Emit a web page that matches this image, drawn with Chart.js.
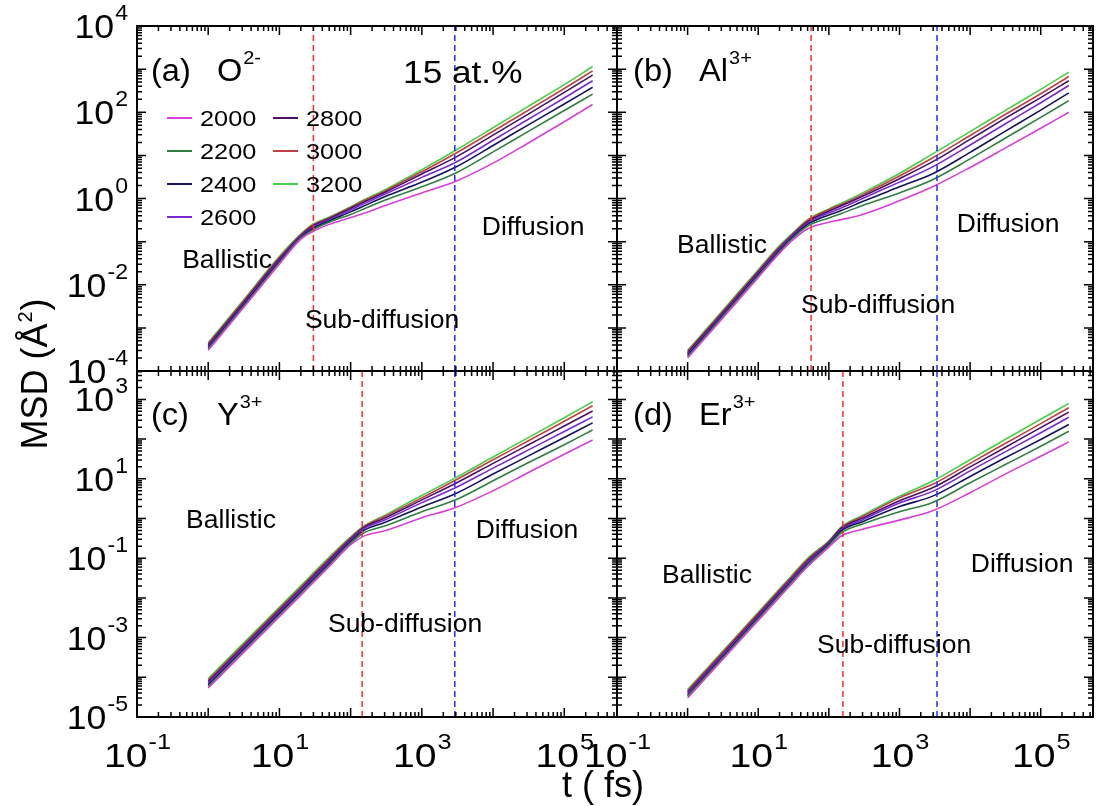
<!DOCTYPE html>
<html lang="pt-BR">
<head>
<meta charset="UTF-8">
<title>MSD 15 at.%</title>
<script src="https://cdn.jsdelivr.net/npm/chart.js@4.4.0/dist/chart.umd.min.js"></script>
<style>
  body { margin: 0; background: #fff; }
  #figura { position: relative; width: 1099px; height: 806px; background: #fff; }
  #figura canvas { position: absolute; left: 0; top: 0; }
</style>
</head>
<body>
<div id="figura">
  <canvas id="painel-a" width="1099" height="806"></canvas>
  <canvas id="painel-b" width="1099" height="806"></canvas>
  <canvas id="painel-c" width="1099" height="806"></canvas>
  <canvas id="painel-d" width="1099" height="806"></canvas>
</div>
<script>
// Tempos (fs) em que as curvas foram lidas
const tempos = [1, 3, 10, 20, 30, 50, 100, 150, 300, 1000, 3000, 10000, 30000, 100000, 250000];

// Temperaturas (K) e cores da legenda
const temperaturas = ['2000', '2200', '2400', '2600', '2800', '3000', '3200'];
const cores = ['#d83fd8', '#2f8040', '#14145c', '#7a28d4', '#4a0f62', '#bf4040', '#45d045'];

// log10 do MSD (Å²), uma linha por temperatura
const logMsdO = [
  [-3.52, -2.57, -1.52, -0.94, -0.76, -0.60, -0.44, -0.35, -0.17, 0.13, 0.40, 0.82, 1.27, 1.78, 2.18],
  [-3.49, -2.54, -1.49, -0.92, -0.72, -0.55, -0.37, -0.25, -0.04, 0.27, 0.59, 1.08, 1.54, 2.04, 2.42],
  [-3.46, -2.51, -1.46, -0.90, -0.69, -0.52, -0.31, -0.18, 0.04, 0.38, 0.73, 1.23, 1.69, 2.19, 2.58],
  [-3.43, -2.48, -1.43, -0.88, -0.66, -0.49, -0.27, -0.13, 0.10, 0.49, 0.84, 1.35, 1.82, 2.33, 2.73],
  [-3.40, -2.45, -1.40, -0.86, -0.63, -0.47, -0.23, -0.09, 0.14, 0.57, 0.96, 1.47, 1.94, 2.46, 2.86],
  [-3.37, -2.42, -1.37, -0.84, -0.61, -0.45, -0.21, -0.06, 0.17, 0.62, 1.05, 1.56, 2.03, 2.55, 2.96],
  [-3.34, -2.39, -1.34, -0.82, -0.59, -0.43, -0.19, -0.04, 0.20, 0.67, 1.12, 1.64, 2.12, 2.64, 3.06]
];
const logMsdAl = [
  [-3.70, -2.81, -1.83, -1.27, -0.98, -0.70, -0.55, -0.49, -0.37, -0.05, 0.28, 0.72, 1.15, 1.63, 2.00],
  [-3.67, -2.78, -1.80, -1.24, -0.94, -0.64, -0.45, -0.35, -0.16, 0.13, 0.44, 0.92, 1.38, 1.88, 2.27],
  [-3.64, -2.75, -1.77, -1.21, -0.91, -0.60, -0.38, -0.28, -0.07, 0.27, 0.58, 1.07, 1.54, 2.05, 2.45],
  [-3.61, -2.72, -1.74, -1.18, -0.88, -0.57, -0.33, -0.22, 0.00, 0.38, 0.74, 1.24, 1.71, 2.22, 2.62],
  [-3.58, -2.69, -1.71, -1.15, -0.86, -0.54, -0.29, -0.17, 0.05, 0.46, 0.86, 1.37, 1.84, 2.34, 2.73],
  [-3.55, -2.66, -1.68, -1.12, -0.84, -0.51, -0.26, -0.14, 0.09, 0.52, 0.95, 1.46, 1.93, 2.43, 2.83],
  [-3.52, -2.63, -1.65, -1.09, -0.82, -0.49, -0.24, -0.11, 0.13, 0.58, 1.04, 1.55, 2.02, 2.53, 2.93]
];
const logMsdY = [
  [-4.27, -3.41, -2.47, -1.93, -1.61, -1.21, -0.66, -0.45, -0.31, 0.02, 0.28, 0.70, 1.14, 1.62, 1.98],
  [-4.23, -3.37, -2.43, -1.89, -1.57, -1.17, -0.62, -0.37, -0.19, 0.17, 0.47, 0.95, 1.39, 1.86, 2.23],
  [-4.19, -3.33, -2.39, -1.85, -1.53, -1.13, -0.58, -0.31, -0.10, 0.29, 0.63, 1.12, 1.56, 2.04, 2.41],
  [-4.15, -3.29, -2.35, -1.81, -1.49, -1.09, -0.55, -0.27, -0.04, 0.40, 0.78, 1.27, 1.71, 2.19, 2.56],
  [-4.11, -3.25, -2.31, -1.77, -1.45, -1.05, -0.52, -0.24, 0.01, 0.47, 0.89, 1.39, 1.84, 2.33, 2.71],
  [-4.07, -3.21, -2.27, -1.73, -1.41, -1.01, -0.49, -0.22, 0.05, 0.52, 0.97, 1.48, 1.94, 2.45, 2.84],
  [-4.03, -3.17, -2.23, -1.69, -1.37, -0.97, -0.46, -0.20, 0.08, 0.58, 1.03, 1.55, 2.02, 2.54, 2.94]
];
const logMsdEr = [
  [-4.52, -3.59, -2.57, -1.98, -1.64, -1.21, -0.72, -0.44, -0.27, -0.04, 0.20, 0.65, 1.10, 1.57, 1.93],
  [-4.48, -3.55, -2.53, -1.94, -1.60, -1.17, -0.68, -0.36, -0.14, 0.17, 0.41, 0.90, 1.34, 1.82, 2.20],
  [-4.45, -3.52, -2.50, -1.91, -1.57, -1.14, -0.65, -0.31, -0.08, 0.30, 0.57, 1.06, 1.51, 1.99, 2.37],
  [-4.41, -3.48, -2.46, -1.87, -1.53, -1.10, -0.62, -0.28, -0.03, 0.39, 0.69, 1.20, 1.66, 2.16, 2.55],
  [-4.38, -3.45, -2.43, -1.84, -1.50, -1.07, -0.60, -0.25, 0.01, 0.45, 0.78, 1.30, 1.77, 2.29, 2.68],
  [-4.34, -3.41, -2.39, -1.80, -1.46, -1.03, -0.58, -0.23, 0.05, 0.52, 0.87, 1.39, 1.87, 2.39, 2.79],
  [-4.31, -3.38, -2.36, -1.77, -1.43, -1.00, -0.56, -0.21, 0.08, 0.56, 0.95, 1.48, 1.97, 2.50, 2.90]
];

// Linhas tracejadas (fs): fim do regime balístico e início da difusão
const limiteBalistico = [30, 56, 145, 158];
const limiteDifusao = [2900, 3400, 2900, 3400];

// Faixas dos eixos
const faixaT = [0.1, 5.5e5];
const faixaMsdSup = [1e-4, 1e4];
const faixaMsdInf = [1e-5, 5.2e3];

// Expoentes que recebem rótulo
const rotulosX = [-1, 1, 3, 5];
const rotulosYSup = [4, 2, 0, -2, -4];
const rotulosYInf = [3, 1, -1, -3, -5];

const FONTE = '"Liberation Sans", Arial, sans-serif';

// Escreve texto (com esticamento horizontal opcional)
function escrever(ctx, texto, x, y, tamanho, alinhamento = 'left', esticar = 1) {
  ctx.save();
  ctx.font = `${tamanho}px ${FONTE}`;
  const largura = ctx.measureText(texto).width * esticar;
  let x0 = x;
  if (alinhamento === 'center') x0 = x - largura / 2;
  if (alinhamento === 'right') x0 = x - largura;
  ctx.translate(x0, y);
  ctx.scale(esticar, 1);
  ctx.textAlign = 'left';
  ctx.textBaseline = 'alphabetic';
  ctx.fillStyle = '#000';
  ctx.fillText(texto, 0, 0);
  ctx.restore();
  return largura;
}

function larguraTexto(ctx, texto, tamanho, esticar = 1) {
  ctx.save();
  ctx.font = `${tamanho}px ${FONTE}`;
  const w = ctx.measureText(texto).width * esticar;
  ctx.restore();
  return w;
}

// Rótulo "10^n"
function potencia(ctx, exp, x, y, alinhamento, esticar) {
  const sup = String(exp);
  const wb = larguraTexto(ctx, '10', 34, esticar);
  const ws = larguraTexto(ctx, sup, 22, esticar);
  let x0 = x;
  if (alinhamento === 'center') x0 = x - (wb + ws) / 2;
  if (alinhamento === 'right') x0 = x - (wb + ws);
  escrever(ctx, '10', x0, y, 34, 'left', esticar);
  escrever(ctx, sup, x0 + wb + 1, y - 18, 22, 'left', esticar);
}

// Traços internos de um eixo logarítmico
function tracos(ctx, escala, horizontal, area) {
  const min = escala.min, max = escala.max;
  for (let k = Math.floor(Math.log10(min)); k <= Math.ceil(Math.log10(max)); k++) {
    for (let m = 1; m <= 9; m++) {
      const v = m * Math.pow(10, k);
      if (v < min * 0.999 || v > max * 1.001) continue;
      const p = escala.getPixelForValue(v);
      const comp = m === 1 ? 9 : 5;
      ctx.beginPath();
      if (horizontal) {
        ctx.moveTo(p, area.bottom); ctx.lineTo(p, area.bottom - comp);
        ctx.moveTo(p, area.top); ctx.lineTo(p, area.top + comp);
      } else {
        ctx.moveTo(area.left, p); ctx.lineTo(area.left + comp, p);
        ctx.moveTo(area.right, p); ctx.lineTo(area.right - comp, p);
      }
      ctx.stroke();
    }
  }
}

// Plugin que desenha moldura, traços, rótulos e anotações de cada painel
function decoracao(cfg) {
  return {
    id: 'decoracao',
    afterDraw(chart) {
      const ctx = chart.ctx;
      const area = chart.chartArea;
      const sx = chart.scales.x, sy = chart.scales.y;
      const px = t => sx.getPixelForValue(t);
      const py = v => sy.getPixelForValue(v);

      ctx.save();
      ctx.strokeStyle = '#000';
      ctx.lineWidth = 1.5;
      tracos(ctx, sx, true, area);
      tracos(ctx, sy, false, area);
      ctx.lineWidth = 2;
      ctx.strokeRect(area.left, area.top, area.right - area.left, area.bottom - area.top);
      ctx.restore();

      // Rótulos dos eixos
      if (cfg.rotulosY) {
        cfg.rotulosY.forEach(e => potencia(ctx, e, area.left - 10, py(Math.pow(10, e)) + 12, 'right', 1.05));
      }
      if (cfg.comRotulosX) {
        rotulosX.forEach(e => potencia(ctx, e, px(Math.pow(10, e)), area.bottom + 50, 'center', 1.15));
      }

      // Identificação do painel: "(a)  O2-"
      const xTag = px(cfg.etiqueta.t), yTag = py(cfg.etiqueta.msd);
      escrever(ctx, cfg.etiqueta.letra, xTag, yTag, 31, 'left', 1.05);
      const wIon = escrever(ctx, cfg.etiqueta.ion, xTag + 66, yTag, 31, 'left', 1.05);
      escrever(ctx, cfg.etiqueta.carga, xTag + 66 + wIon + 1, yTag - 17, 19, 'left', 1.05);

      // Regimes
      cfg.regimes.forEach(r => escrever(ctx, r.texto, px(r.t), py(r.msd), 25, 'center', 1.06));

      if (cfg.extra) cfg.extra(ctx, px, py);
    }
  };
}

// Legenda e "15 at.%" no painel (a)
function extrasPainelA(ctx, px, py) {
  escrever(ctx, '15 at.%', px(545), py(477), 32, 'left', 1.1);
  const x0 = px(0.264), y0 = py(73.6);
  temperaturas.forEach((temp, i) => {
    const col = i < 4 ? 0 : 1;
    const lin = i < 4 ? i : i - 4;
    const x = x0 + col * 106, y = y0 + lin * 33;
    ctx.save();
    ctx.strokeStyle = cores[i];
    ctx.lineWidth = 2;
    ctx.beginPath();
    ctx.moveTo(x, y); ctx.lineTo(x + 25, y);
    ctx.stroke();
    ctx.restore();
    escrever(ctx, temp, x + 33, y + 8, 22, 'left', 1.15);
  });
}

// Títulos dos eixos (desenhados junto com o painel c)
function extrasPainelC(ctx, px, py) {
  ctx.save();
  ctx.translate(47, 374);
  ctx.rotate(-Math.PI / 2);
  const w1 = larguraTexto(ctx, 'MSD (Å', 36);
  const w2 = larguraTexto(ctx, '2', 20);
  const w3 = larguraTexto(ctx, ')', 36);
  const inicio = -(w1 + w2 + w3 + 2) / 2;
  escrever(ctx, 'MSD (Å', inicio, 0, 36);
  escrever(ctx, '2', inicio + w1 + 1, -15, 20);
  escrever(ctx, ')', inicio + w1 + w2 + 2, 0, 36);
  ctx.restore();
  escrever(ctx, 't ( fs)', 603, 797, 36, 'center');
}

function tracejada(t, faixa, cor) {
  return {
    label: 'limite',
    data: [{ x: t, y: faixa[0] }, { x: t, y: faixa[1] }],
    borderColor: cor,
    borderWidth: 1.5,
    borderDash: [6, 4],
    pointRadius: 0,
    fill: false
  };
}

// Cria um painel
function criarPainel(idCanvas, cfg) {
  const datasets = temperaturas.map((temp, i) => ({
    label: temp,
    data: tempos.map((t, j) => ({ x: t, y: Math.pow(10, cfg.logMsd[i][j]) })),
    borderColor: cores[i],
    borderWidth: 1.6,
    pointRadius: 0,
    cubicInterpolationMode: 'monotone',
    fill: false
  }));
  datasets.unshift(tracejada(cfg.tDifusao, cfg.faixaY, '#1f2fff'));
  datasets.unshift(tracejada(cfg.tBalistico, cfg.faixaY, '#ff2a2a'));

  return new Chart(document.getElementById(idCanvas), {
    type: 'line',
    data: { datasets: datasets },
    options: {
      responsive: false,
      animation: false,
      devicePixelRatio: 1,
      layout: { padding: cfg.margens },
      plugins: {
        legend: { display: false },
        tooltip: { enabled: false }
      },
      scales: {
        x: { type: 'logarithmic', min: faixaT[0], max: faixaT[1], display: false },
        y: { type: 'logarithmic', min: cfg.faixaY[0], max: cfg.faixaY[1], display: false }
      }
    },
    plugins: [decoracao(cfg)]
  });
}

criarPainel('painel-a', {
  logMsd: logMsdO,
  faixaY: faixaMsdSup,
  margens: { left: 137, top: 26, right: 482, bottom: 435 },
  tBalistico: limiteBalistico[0],
  tDifusao: limiteDifusao[0],
  rotulosY: rotulosYSup,
  comRotulosX: false,
  etiqueta: { letra: '(a)', ion: 'O', carga: '2-', t: 0.157, msd: 531 },
  regimes: [
    { texto: 'Ballistic', t: 1.84, msd: 0.0244 },
    { texto: 'Sub-diffusion', t: 276, msd: 1.0e-3 },
    { texto: 'Diffusion', t: 3.65e4, msd: 0.143 }
  ],
  extra: extrasPainelA
});

criarPainel('painel-b', {
  logMsd: logMsdAl,
  faixaY: faixaMsdSup,
  margens: { left: 617, top: 26, right: 6, bottom: 435 },
  tBalistico: limiteBalistico[1],
  tDifusao: limiteDifusao[1],
  rotulosY: null,
  comRotulosX: false,
  etiqueta: { letra: '(b)', ion: 'Al', carga: '3+', t: 0.169, msd: 531 },
  regimes: [
    { texto: 'Ballistic', t: 3.07, msd: 0.0545 },
    { texto: 'Sub-diffusion', t: 498, msd: 2.21e-3 },
    { texto: 'Diffusion', t: 3.45e4, msd: 0.167 }
  ]
});

criarPainel('painel-c', {
  logMsd: logMsdY,
  faixaY: faixaMsdInf,
  margens: { left: 137, top: 371, right: 482, bottom: 89 },
  tBalistico: limiteBalistico[2],
  tDifusao: limiteDifusao[2],
  rotulosY: rotulosYInf,
  comRotulosX: true,
  etiqueta: { letra: '(c)', ion: 'Y', carga: '3+', t: 0.157, msd: 229 },
  regimes: [
    { texto: 'Ballistic', t: 2.09, msd: 0.579 },
    { texto: 'Sub-diffusion', t: 581, msd: 1.39e-3 },
    { texto: 'Diffusion', t: 3.0e4, msd: 0.325 }
  ],
  extra: extrasPainelC
});

criarPainel('painel-d', {
  logMsd: logMsdEr,
  faixaY: faixaMsdInf,
  margens: { left: 617, top: 371, right: 6, bottom: 89 },
  tBalistico: limiteBalistico[3],
  tDifusao: limiteDifusao[3],
  rotulosY: null,
  comRotulosX: true,
  etiqueta: { letra: '(d)', ion: 'Er', carga: '3+', t: 0.169, msd: 229 },
  regimes: [
    { texto: 'Ballistic', t: 1.88, msd: 0.0238 },
    { texto: 'Sub-diffusion', t: 840, msd: 4.1e-4 },
    { texto: 'Diffusion', t: 5.46e4, msd: 0.045 }
  ]
});
</script>
</body>
</html>
